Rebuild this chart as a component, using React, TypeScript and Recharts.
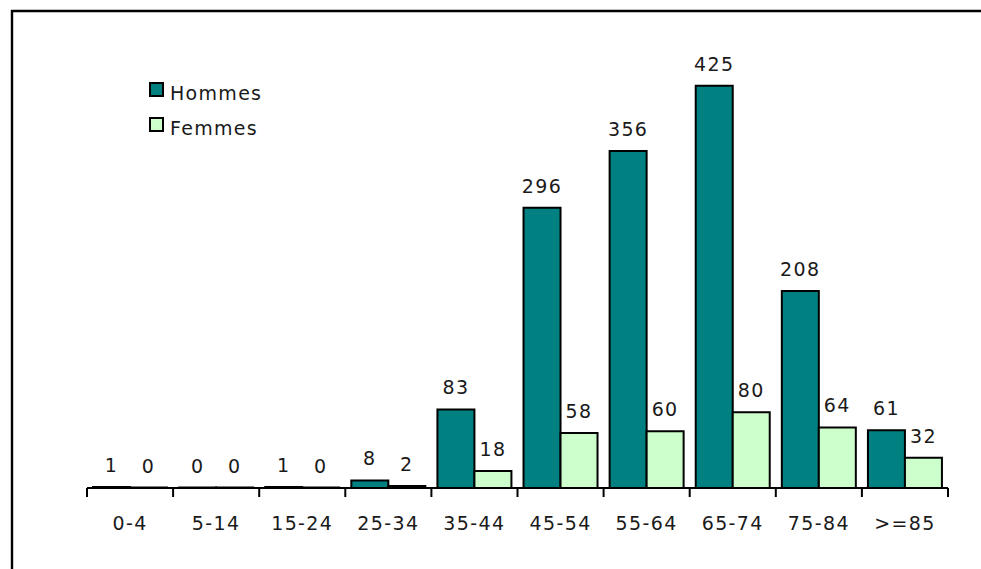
import React from 'react';
import { BarChart, Bar, XAxis, YAxis, LabelList, Legend } from 'recharts';

// Age groups and counts per sex
const ageGroups = ['0-4', '5-14', '15-24', '25-34', '35-44', '45-54', '55-64', '65-74', '75-84', '>=85'];
const hommes = [1, 0, 1, 8, 83, 296, 356, 425, 208, 61];
const femmes = [0, 0, 0, 2, 18, 58, 60, 80, 64, 32];

const data = ageGroups.map((age, i) => ({ age, hommes: hommes[i], femmes: femmes[i] }));

const WIDTH = 981;
const HEIGHT = 569;
const MARGIN = { top: 62, right: 33, bottom: 41, left: 87 };
const BAND = (WIDTH - MARGIN.left - MARGIN.right) / ageGroups.length;

const FONT = "'DejaVu Sans', Verdana, sans-serif";
const TEXT = '#1a1a1a';
const TEAL = '#008080';
const MINT = '#CCFFCC';

// category label plus tick marks on the band edges
function AgeTick(props: any) {
  const { x, y, payload, index } = props;
  const left = x - BAND / 2;
  const right = x + BAND / 2;
  return (
    <g>
      <line x1={left} y1={y} x2={left} y2={y + 9} stroke="#000" strokeWidth={2} />
      {index === ageGroups.length - 1 && (
        <line x1={right} y1={y} x2={right} y2={y + 9} stroke="#000" strokeWidth={2} />
      )}
      <text x={x} y={y + 42} textAnchor="middle" fill={TEXT} fontSize={19} fontFamily={FONT}>
        {payload.value}
      </text>
    </g>
  );
}

function renderLegend() {
  const items = [
    { label: 'Hommes', color: TEAL },
    { label: 'Femmes', color: MINT },
  ];
  return (
    <div style={{ fontFamily: FONT, fontSize: 19, color: TEXT, letterSpacing: '1.3px' }}>
      {items.map((item) => (
        <div key={item.label} style={{ display: 'flex', alignItems: 'center', height: 35 }}>
          <span
            style={{
              display: 'inline-block',
              width: 15,
              height: 15,
              boxSizing: 'border-box',
              border: '2px solid #000',
              background: item.color,
              marginRight: 6,
              position: 'relative',
              top: -3,
            }}
          />
          <span>{item.label}</span>
        </div>
      ))}
    </div>
  );
}

const labelProps = { position: 'top' as const, offset: 15, fill: TEXT, fontSize: 19, fontFamily: FONT };

export default function App() {
  return (
    <div
      style={{
        position: 'absolute',
        left: 0,
        top: 0,
        width: WIDTH,
        height: HEIGHT,
        overflow: 'hidden',
        background: '#fff',
        letterSpacing: '1.4px',
      }}
    >
      {/* outer frame: only its top and left edges fall inside the page */}
      <svg width={WIDTH} height={HEIGHT} style={{ position: 'absolute', left: 0, top: 0 }}>
        <polyline points={`12,${HEIGHT} 12,11 ${WIDTH},11`} fill="none" stroke="#000" strokeWidth={2.4} />
      </svg>
      <BarChart
        width={WIDTH}
        height={HEIGHT}
        data={data}
        margin={MARGIN}
        barCategoryGap="7%"
        barGap={0}
      >
        <XAxis
          dataKey="age"
          axisLine={{ stroke: '#000', strokeWidth: 2 }}
          tickLine={false}
          tickSize={0}
          tickMargin={0}
          interval={0}
          height={40}
          tick={<AgeTick />}
        />
        <YAxis hide domain={[0, 450]} />
        <Legend
          layout="vertical"
          align="center"
          verticalAlign="middle"
          content={renderLegend}
          wrapperStyle={{ left: 149, top: 75, width: 'auto' }}
        />
        <Bar dataKey="hommes" fill={TEAL} stroke="#000" strokeWidth={2} minPointSize={0.5} isAnimationActive={false}>
          <LabelList dataKey="hommes" {...labelProps} />
        </Bar>
        <Bar dataKey="femmes" fill={MINT} stroke="#000" strokeWidth={2} minPointSize={0.5} isAnimationActive={false}>
          <LabelList dataKey="femmes" {...labelProps} />
        </Bar>
      </BarChart>
    </div>
  );
}
